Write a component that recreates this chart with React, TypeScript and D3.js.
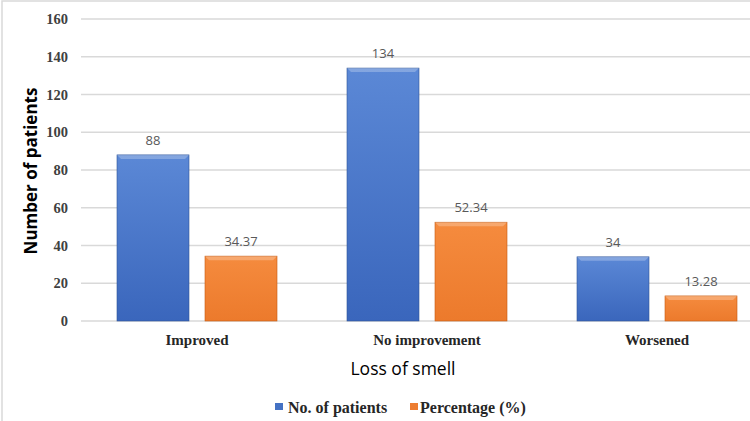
import React from "react";
import * as d3 from "d3";

const categories = ["Improved", "No improvement", "Worsened"];
const seriesNames = ["No. of patients", "Percentage (%)"];
const patients = [88, 134, 34];
const percentages = [34.37, 52.34, 13.28];
const valueLabels = [["88", "134", "34"], ["34.37", "52.34", "13.28"]];
const yTicks = [0, 20, 40, 60, 80, 100, 120, 140, 160];

const W = 750, H = 421;
const colors = ["#4472C4", "#ED7D31"];

export default function App() {
  const y = d3.scaleLinear().domain([0, 160]).range([321, 19]);
  const x0 = d3.scaleBand().domain(categories).range([82, 772]).paddingInner(0).paddingOuter(0);
  const x1 = d3.scaleBand().domain(["0", "1"]).range([0, x0.bandwidth()]).paddingInner(0.1818).paddingOuter(0.3977);
  const series = [patients, percentages];
  const serif = "'Liberation Serif', 'Times New Roman', serif";
  const sans = "'Open Sans', 'Noto Sans', sans-serif";
  return (
    <svg width={W} height={H} style={{ position: "absolute", left: 0, top: 0 }}>
      <defs>
        <linearGradient id="g0" x1="0" y1="0" x2="0" y2="1">
          <stop offset="0" stopColor="#5B88D6" />
          <stop offset="1" stopColor="#3A66BC" />
        </linearGradient>
        <linearGradient id="g1" x1="0" y1="0" x2="0" y2="1">
          <stop offset="0" stopColor="#F58B3E" />
          <stop offset="1" stopColor="#EC7A2C" />
        </linearGradient>
      </defs>
      <rect x={0} y={0} width={W} height={H} fill="#fff" />
      <rect x={2} y={1} width={W + 10} height={H + 10} fill="none" stroke="#d9d9d9" strokeWidth={1.5} />
      {yTicks.map((t) => (
        <g key={t}>
          <line x1={81} x2={W} y1={y(t)} y2={y(t)} stroke="#d9d9d9" strokeWidth={1.3} />
          <text x={68} y={y(t) + 5} textAnchor="end" fontFamily={serif} fontWeight="bold" fontSize={14.5} fill="#404040">{t}</text>
        </g>
      ))}
      {categories.map((c, i) => (
        <g key={c}>
          {series.map((s, j) => {
            const bx = (x0(c) as number) + (x1(String(j)) as number);
            const bw = x1.bandwidth();
            const by = y(s[i]);
            const bh = y(0) - by;
            return (
              <g key={j}>
                <rect x={bx} y={by} width={bw} height={bh} fill={`url(#g${j})`} stroke={j === 0 ? "#2F5597" : "#C55A11"} strokeWidth={0.6} />
                <polygon points={`${bx},${by} ${bx + bw},${by} ${bx + bw - 4},${by + 4} ${bx + 4},${by + 4}`} fill="#fff" opacity={0.25} />
                <text x={bx + bw / 2} y={by - 10} textAnchor="middle" fontFamily={sans} fontSize={13} fill="#595959">{valueLabels[j][i]}</text>
              </g>
            );
          })}
          <text x={(x0(c) as number) + x0.bandwidth() / 2} y={345} textAnchor="middle" fontFamily={serif} fontWeight="bold" fontSize={15} fill="#262626">{c}</text>
        </g>
      ))}
      <text x={403} y={375} textAnchor="middle" fontFamily={sans} fontSize={17.5} fill="#000">Loss of smell</text>
      <text transform={`translate(37,171) rotate(-90)`} textAnchor="middle" fontFamily={sans} fontWeight="bold" fontSize={17} fill="#000">Number of patients</text>
      {seriesNames.map((n, j) => {
        const lx = j === 0 ? 275 : 410;
        return (
          <g key={n}>
            <rect x={lx} y={403} width={8} height={7} fill={colors[j]} />
            <text x={lx + (j === 0 ? 13 : 10)} y={413} fontFamily={serif} fontWeight="bold" fontSize={16} fill="#262626">{n}</text>
          </g>
        );
      })}
    </svg>
  );
}
